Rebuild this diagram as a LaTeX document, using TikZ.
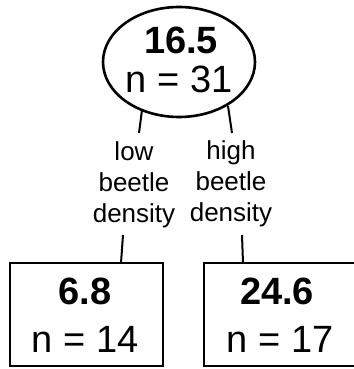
\documentclass[tikz,border=0pt]{standalone}
\usepackage{fontspec}
\setmainfont{Liberation Sans}
\usetikzlibrary{shapes.geometric}
\tikzset{
  bigval/.style={inner sep=0pt, anchor=base, font=\fontsize{38}{40}\selectfont\bfseries},
  bign/.style={inner sep=0pt, anchor=base, font=\fontsize{38}{40}\selectfont},
  lbl/.style={inner sep=0pt, align=center, font=\fontsize{26}{31}\selectfont},
  leafbox/.style={draw, line width=2.8pt, minimum width=153pt, minimum height=103pt, inner sep=0pt},
  conn/.style={line width=2pt}
}
\begin{document}
\begin{tikzpicture}[x=1pt,y=-1pt]
\useasboundingbox (0,0) rectangle (353,369);
% root
\node[draw, ellipse, line width=2.6pt, minimum width=152pt, minimum height=110pt, inner sep=0pt] (root) at (179,62) {};
\node[bigval] (rootv) at (181,53) {16.5};
\node[bign] (rootn) at (179,92) {n = 31};
% labels
\node[lbl] (low) at (134,185) {low\\beetle\\density};
\node[lbl] (high) at (231,184) {high\\beetle\\density};
% leaves
\node[leafbox] (lbox) at (86.5,314.5) {};
\node[bigval] (lv) at (85,304) {6.8};
\node[bign] (ln) at (85,352) {n = 14};
\node[leafbox, minimum width=164pt] (rbox) at (286,314.5) {};
\node[bigval] (rv) at (277,304) {24.6};
\node[bign] (rn) at (280,352) {n = 17};
% connector end points
\coordinate (e1) at (142,110);
\coordinate (e2) at (228,106);
\coordinate (lt) at (139,133);
\coordinate (lb) at (123,235);
\coordinate (rt) at (232,133);
\coordinate (rb) at (242,235);
\coordinate (b1) at (121,263);
\coordinate (b2) at (243,263);
\draw[conn] (e1) -- (lt);
\draw[conn] (lb) -- (b1);
\draw[conn] (e2) -- (rt);
\draw[conn] (rb) -- (b2);
\end{tikzpicture}
\end{document}
